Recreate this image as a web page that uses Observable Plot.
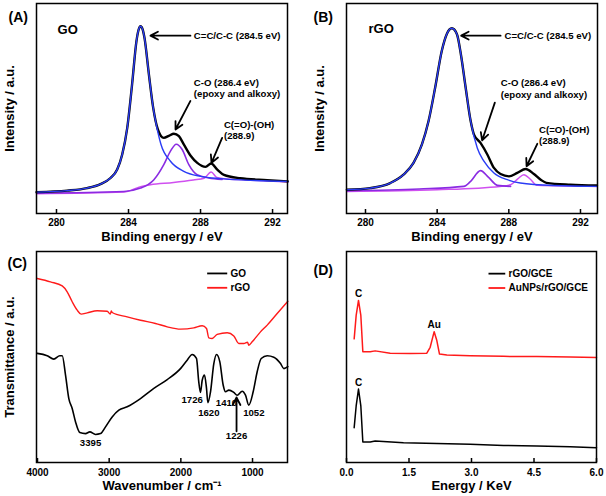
<!DOCTYPE html>
<html><head><meta charset="utf-8">
<script src="https://cdn.jsdelivr.net/npm/d3@7"></script>
<script src="https://cdn.jsdelivr.net/npm/@observablehq/plot@0.6"></script>
<style>
html,body{margin:0;padding:0;background:#fff;}
#wrap{position:relative;width:606px;height:496px;overflow:hidden;background:#fff;}
.panel{position:absolute;width:303px;height:248px;}
.panel svg{overflow:visible;}
</style></head><body><div id="wrap"></div>
<script>
// ---------- Panel A: GO C1s XPS  [binding energy (eV), intensity (a.u.)]
const goEnvelope = [[278.89,10.2],[280.59,10.9],[281.7,12.1],[282.44,14.0],[283.0,16.9],[283.37,20.9],[283.65,28.1],[283.93,40.8],[284.2,61.6],[284.44,82.0],[284.56,87.5],[284.67,89.2],[284.78,87.8],[284.89,83.5],[285.13,66.4],[285.37,50.4],[285.63,40.0],[285.96,36.0],[286.24,37.0],[286.52,38.0],[286.8,36.8],[287.07,32.9],[287.45,27.5],[287.82,24.1],[288.28,22.2],[288.59,23.8],[288.93,20.9],[289.3,18.4],[290.2,16.8],[291.7,15.9],[292.85,15.3]];
const goCC = [[278.89,10.2],[280.59,10.9],[281.7,12.1],[282.44,14.0],[283.0,16.9],[283.37,20.9],[283.65,28.1],[283.93,40.8],[284.2,61.6],[284.44,82.0],[284.56,87.5],[284.67,89.2],[284.78,87.8],[284.89,83.5],[285.13,66.4],[285.37,50.4],[285.55,42.0],[285.8,33.0],[286.33,24.9],[287.07,20.1],[288.0,17.7],[289.1,16.6],[290.5,15.9],[292.85,15.3]];
const goCO = [[278.89,9.7],[283.74,10.5],[284.67,12.1],[285.41,16.1],[285.96,23.3],[286.33,29.7],[286.65,33.0],[286.98,30.5],[287.35,23.3],[287.81,18.5],[288.46,16.9],[289.2,16.2]];
const goCOOH = [[278.89,9.4],[283.74,10.2],[284.67,12.8],[285.22,13.7],[286.5,14.8],[287.6,16.0],[288.2,16.8],[288.59,19.8],[288.9,17.2],[289.3,16.6],[290.5,16.0],[292.85,15.0]];

// ---------- Panel B: rGO C1s XPS
const rgoEnvelope = [[278.96,11.3],[280.26,12.1],[281.38,14.5],[282.12,18.5],[282.68,24.1],[283.15,32.9],[283.52,44.0],[283.89,60.0],[284.26,77.5],[284.54,85.5],[284.82,88.2],[285.1,85.5],[285.33,75.5],[285.59,60.0],[285.87,44.0],[286.05,37.7],[286.42,33.6],[286.8,28.1],[287.17,21.7],[287.54,18.8],[288.01,17.7],[288.47,19.3],[288.94,21.2],[289.4,18.8],[289.78,16.1],[290.1,14.6],[291.44,13.7],[292.92,13.3]];
const rgoCC = [[278.96,11.3],[280.26,12.1],[281.38,14.5],[282.12,18.5],[282.68,24.1],[283.15,32.9],[283.52,44.0],[283.89,60.0],[284.26,77.5],[284.54,85.5],[284.82,88.2],[285.1,85.5],[285.33,75.5],[285.59,60.0],[285.87,44.0],[286.24,31.2],[286.61,24.9],[287.17,19.3],[287.92,16.1],[288.64,14.5],[290.5,13.3],[292.92,12.9]];
const rgoCO = [[278.96,10.9],[283.0,11.7],[285.49,12.9],[285.87,15.3],[286.42,20.4],[286.87,17.2],[287.36,13.4],[288.1,12.9]];
const rgoCOOH = [[278.96,10.5],[284.0,11.3],[287.5,12.9],[288.1,13.7],[288.5,16.5],[288.84,18.5],[289.2,16.3],[289.59,13.4],[292.92,12.9]];

// ---------- Panel C: FTIR  [wavenumber (cm-1), transmittance (a.u.)]
const ftirGO = [[4004,51.7],[3865,50.6],[3772,49.0],[3689,50.6],[3655,50.6],[3609,41.4],[3563,30.3],[3516,25.6],[3470,19.3],[3410,14.2],[3330,13.7],[3270,14.5],[3191,13.3],[3121,13.7],[3051,16.9],[2958,21.6],[2865,24.8],[2749,26.4],[2563,30.3],[2377,35.1],[2190,39.3],[2005,44.5],[1912,48.5],[1842,51.2],[1782,49.3],[1750,38.2],[1726,33.2],[1702,39.0],[1670,41.4],[1642,35.1],[1623,28.4],[1586,33.5],[1540,46.9],[1502,51.2],[1456,47.7],[1409,36.6],[1377,33.5],[1330,34.3],[1261,33.2],[1214,31.9],[1144,33.8],[1098,31.9],[1052,27.2],[991,33.5],[935,43.0],[879,49.3],[795,50.6],[703,49.9],[609,46.9],[563,44.5],[507,45.4]];
const ftirRGO = [[4004,87.2],[3819,85.6],[3655,83.7],[3586,80.9],[3516,76.2],[3446,72.2],[3391,70.3],[3307,70.9],[3167,71.9],[3028,71.7],[2985,70.3],[2970,71.8],[2958,71.1],[2749,69.0],[2563,67.4],[2354,65.9],[2190,64.3],[2005,63.2],[1819,63.8],[1702,64.8],[1642,63.5],[1610,59.1],[1563,58.8],[1493,60.7],[1353,61.5],[1261,60.0],[1191,56.4],[1121,56.4],[1070,57.0],[1052,55.6],[1005,57.2],[889,61.9],[795,65.1],[656,70.6],[507,76.4]];

// ---------- Panel D: EDS  [energy (keV), counts (a.u.)]
const edsRGO = [[0.184,16.5],[0.232,26.8],[0.288,34.8],[0.344,26.8],[0.392,9.7],[0.568,9.7],[0.688,10.2],[1.368,9.4],[2.168,9.0],[2.968,8.6],[3.768,8.1],[4.568,7.8],[5.368,7.5],[6.0,7.0]];
const edsAuRGO = [[0.184,58.6],[0.232,69.7],[0.288,76.8],[0.344,69.7],[0.392,52.5],[0.568,52.5],[0.688,52.9],[1.048,51.8],[1.528,51.6],[1.928,51.8],[2.008,54.6],[2.104,62.0],[2.168,57.8],[2.232,51.4],[2.408,51.0],[2.968,50.6],[3.768,50.3],[4.568,50.2],[5.368,50.0],[6.0,49.8]];

// ---------- ticks
const xpsTicks = [280, 284, 288, 292];
const ftirTicks = [4000, 3000, 2000, 1000];
const edsTicks = [0, 1.5, 3, 4.5, 6];

// ---------- annotations
const goNotes = [{x:287.63,y:84.7,t:"C=C/C-C (284.5 eV)"},{x:287.63,y:62.3,t:"C-O (286.4 eV)"},{x:287.63,y:56.9,t:"(epoxy and alkoxy)"},{x:289.3,y:42.2,t:"C(=O)-(OH)"},{x:289.3,y:36.8,t:"(288.9)"}];
const goArrows = [{x1:287.44,y1:84.7,x2:285.22,y2:84.7},{x1:287.44,y1:53.6,x2:286.61,y2:40.0},{x1:289.2,y1:36.0,x2:288.61,y2:24.1}];
const rgoNotes = [{x:287.76,y:84.7,t:"C=C/C-C (284.5 eV)"},{x:287.55,y:62.3,t:"C-O (286.4 eV)"},{x:287.55,y:56.5,t:"(epoxy and alkoxy)"},{x:289.69,y:40.0,t:"C(=O)-(OH)"},{x:289.69,y:34.6,t:"(288.9)"}];
const rgoArrows = [{x1:287.54,y1:84.7,x2:285.34,y2:84.7},{x1:287.22,y1:52.8,x2:286.51,y2:34.8},{x1:289.59,y1:33.2,x2:288.99,y2:22.5}];
const ftirNotes = [{x:3260,y:9.5,t:"3395"},{x:1842,y:29.5,t:"1726"},{x:1610,y:23.7,t:"1620"},{x:1363,y:28.4,t:"1410"},{x:982,y:23.7,t:"1052"},{x:1223,y:12.5,t:"1226"}];
const ftirArrows = [{x1:1223,y1:14.8,x2:1223,y2:30.8}];
const ftirLegend = [{x1:1633,x2:1353,y:89.6,tx:1307,t:"GO",c:"#000000"},{x1:1633,x2:1353,y:82.8,tx:1307,t:"rGO",c:"#ff1a1a"}];
const edsNotes = [{x:0.288,y:80.0,t:"C"},{x:0.288,y:37.9,t:"C"},{x:2.104,y:65.2,t:"Au"}];
const edsLegend = [{x1:3.408,x2:3.81,y:89.5,tx:3.89,t:"rGO/GCE",c:"#000000"},{x1:3.408,x2:3.81,y:82.7,tx:3.89,t:"AuNPs/rGO/GCE",c:"#ff1a1a"}];

const FONT = "'Liberation Sans', Arial, Helvetica, sans-serif";
const BLUE = "#2a3cf5", PURPLE = "#8a2be2", MAGENTA = "#d050f0", RED = "#ff1a1a";

const lineOf = (data, stroke, sw, curve) => Plot.line(data, {x: d => d[0], y: d => d[1], stroke, strokeWidth: sw, curve, strokeLinejoin: "round"});

function makePanel(o) {
  const marks = [
    ...o.marks,
    Plot.frame({stroke: "black", strokeWidth: 1.5}),
    Plot.axisX(o.ticks, {tickSize: -4, tickPadding: o.tickPad, tickFormat: o.fmt, fontSize: 10, fontWeight: "bold", label: null, strokeWidth: 1.5}),
    Plot.text([o.xLabel], {text: d => d, frameAnchor: "bottom", dy: o.labelDy, lineAnchor: "top", textAnchor: "middle", fontSize: 13, fontWeight: "bold"}),
    Plot.text([o.tag], {text: d => d, frameAnchor: "top-left", dx: o.tagDx, dy: o.tagDy, textAnchor: "start", lineAnchor: "middle", fontSize: 14, fontWeight: "bold"})
  ];
  if (o.yLabel) marks.push(Plot.text([o.yLabel], {text: d => d, frameAnchor: "left", rotate: -90, dx: -27, textAnchor: "middle", lineAnchor: "middle", fontSize: 13, fontWeight: "bold"}));
  const chart = Plot.plot({
    width: 303, height: 248,
    marginLeft: o.mL, marginRight: o.mR, marginTop: o.mT, marginBottom: o.mB,
    x: {domain: o.xDomain}, y: {domain: [0, 100], axis: null},
    style: {fontFamily: FONT, fontWeight: "bold", background: "transparent", color: "black"},
    marks
  });
  const div = document.createElement("div");
  div.className = "panel";
  div.style.left = o.left + "px";
  div.style.top = o.top + "px";
  div.appendChild(chart);
  document.getElementById("wrap").appendChild(div);
}

const noteMarks = (notes, size) => Plot.text(notes, {x: "x", y: "y", text: "t", textAnchor: "start", fontSize: size, fontWeight: "bold"});
const arrowMarks = (arrows) => Plot.arrow(arrows, {x1: "x1", y1: "y1", x2: "x2", y2: "y2", stroke: "black", strokeWidth: 1.8, headLength: 7, headAngle: 55});

makePanel({
  left: 0, top: 0, mL: 36, mR: 16, mT: 3, mB: 35,
  xDomain: [278.89, 292.83], ticks: xpsTicks, fmt: d => String(d), tickPad: 9, labelDy: 18,
  xLabel: "Binding energy / eV", yLabel: "Intensity / a.u.", tag: "(A)", tagDx: -28, tagDy: 14.5,
  marks: [
    lineOf(goCOOH, MAGENTA, 1.5, "monotone-x"),
    lineOf(goCO, PURPLE, 1.6, "monotone-x"),
    lineOf(goEnvelope, "black", 2.4, "monotone-x"),
    lineOf(goCC, BLUE, 1.4, "monotone-x"),
    Plot.text(["GO"], {text: d => d, x: 280.06, y: 87.6, textAnchor: "start", fontSize: 13, fontWeight: "bold"}),
    noteMarks(goNotes, 9.6),
    arrowMarks(goArrows)
  ]
});

makePanel({
  left: 303, top: 0, mL: 43, mR: 9, mT: 3, mB: 35,
  xDomain: [278.94, 292.95], ticks: xpsTicks, fmt: d => String(d), tickPad: 9, labelDy: 18,
  xLabel: "Binding energy / eV", yLabel: "Intensity / a.u.", tag: "(B)", tagDx: -33, tagDy: 13.7,
  marks: [
    lineOf(rgoCOOH, MAGENTA, 1.5, "monotone-x"),
    lineOf(rgoCO, PURPLE, 1.6, "monotone-x"),
    lineOf(rgoEnvelope, "black", 2.4, "monotone-x"),
    lineOf(rgoCC, BLUE, 1.4, "monotone-x"),
    Plot.text(["rGO"], {text: d => d, x: 280.17, y: 87.9, textAnchor: "start", fontSize: 13, fontWeight: "bold"}),
    noteMarks(rgoNotes, 9.6),
    arrowMarks(rgoArrows)
  ]
});

makePanel({
  left: 0, top: 248, mL: 36, mR: 16, mT: 3, mB: 34,
  xDomain: [4014, 512], ticks: ftirTicks, fmt: d => String(d), tickPad: 10.5, labelDy: 18.3,
  xLabel: "Wavenumber / cm⁻¹", yLabel: "Transmittance / a.u.", tag: "(C)", tagDx: -29, tagDy: 12,
  marks: [
    lineOf(ftirRGO, RED, 1.4, "monotone-x"),
    lineOf(ftirGO, "black", 1.6, "monotone-x"),
    Plot.text(ftirNotes, {x: "x", y: "y", text: "t", fontSize: 9.6, fontWeight: "bold"}),
    arrowMarks(ftirArrows),
    Plot.link(ftirLegend, {x1: "x1", x2: "x2", y1: "y", y2: "y", stroke: "c", strokeWidth: 1.8}),
    Plot.text(ftirLegend, {x: "tx", y: "y", text: "t", textAnchor: "start", fontSize: 10, fontWeight: "bold"})
  ]
});

makePanel({
  left: 303, top: 248, mL: 43, mR: 10, mT: 3, mB: 34,
  xDomain: [0, 6], ticks: edsTicks, fmt: d3.format(".1f"), tickPad: 10.5, labelDy: 18.3,
  xLabel: "Energy / KeV", yLabel: null, tag: "(D)", tagDx: -33, tagDy: 18.7,
  marks: [
    lineOf(edsAuRGO, RED, 1.5, "linear"),
    lineOf(edsRGO, "black", 1.5, "linear"),
    Plot.text(edsNotes, {x: "x", y: "y", text: "t", fontSize: 10, fontWeight: "bold"}),
    Plot.link(edsLegend, {x1: "x1", x2: "x2", y1: "y", y2: "y", stroke: "c", strokeWidth: 1.8}),
    Plot.text(edsLegend, {x: "tx", y: "y", text: "t", textAnchor: "start", fontSize: 10, fontWeight: "bold"})
  ]
});
</script></body></html>
